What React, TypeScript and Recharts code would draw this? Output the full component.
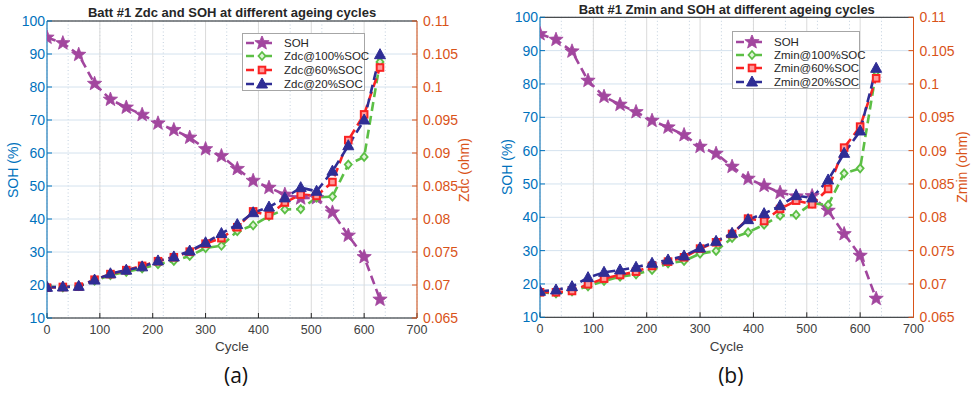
import React from 'react'
import { LineChart, Line, XAxis, YAxis, CartesianGrid, Legend, ReferenceLine } from 'recharts'

// ageing cycles (x) — same for both panels
const cycles = [0, 30, 60, 90, 120, 150, 180, 210, 240, 270, 300, 330, 360, 390, 420, 450, 480, 510, 540, 570, 600, 630]

// state of health (%)
const soh = [95, 93.3, 89.8, 81, 76.2, 73.8, 71.6, 69, 67, 64.7, 61.2, 59.1, 55.2, 51.6, 49.5, 47.4, 46.3, 46.4, 42, 35, 28.5, 15.6]

// panel (a): Zdc in ohm
const zdc100 = [0.06975, 0.06965, 0.06985, 0.07065, 0.0715, 0.072, 0.0725, 0.07315, 0.07365, 0.0744, 0.0756, 0.07595, 0.07815, 0.07905, 0.08045, 0.08145, 0.0815, 0.08325, 0.0834, 0.08825, 0.0894, 0.1038]
const zdc60 = [0.0696, 0.0697, 0.06975, 0.0708, 0.07165, 0.07225, 0.0729, 0.0736, 0.0742, 0.07505, 0.07625, 0.0771, 0.07875, 0.08115, 0.08055, 0.0825, 0.0837, 0.0835, 0.0856, 0.09195, 0.09585, 0.10295]
const zdc20 = [0.06965, 0.0697, 0.0698, 0.07075, 0.0717, 0.07225, 0.07275, 0.07365, 0.07425, 0.07515, 0.0764, 0.0778, 0.07915, 0.08095, 0.0818, 0.0832, 0.08475, 0.0842, 0.08725, 0.0911, 0.095, 0.1049]

// panel (b): Zmin in ohm
const zmin100 = [0.06875, 0.0686, 0.0689, 0.06965, 0.07045, 0.0711, 0.07145, 0.0721, 0.0731, 0.07345, 0.07455, 0.07495, 0.0769, 0.07775, 0.0789, 0.08025, 0.08035, 0.0821, 0.08185, 0.0866, 0.08735, 0.10185]
const zmin60 = [0.06875, 0.06875, 0.06895, 0.06995, 0.0708, 0.07135, 0.07185, 0.0727, 0.07335, 0.074, 0.0753, 0.07625, 0.0775, 0.0798, 0.07945, 0.08125, 0.0825, 0.08195, 0.08425, 0.09045, 0.0936, 0.10085]
const zmin20 = [0.0689, 0.0691, 0.0696, 0.07095, 0.07175, 0.0721, 0.0725, 0.0731, 0.0736, 0.0742, 0.0754, 0.0764, 0.0776, 0.07965, 0.08055, 0.08175, 0.08325, 0.0829, 0.0856, 0.0896, 0.09295, 0.10235]

const cycleTicks = [0, 100, 200, 300, 400, 500, 600, 700]
const sohTicks = [10, 20, 30, 40, 50, 60, 70, 80, 90, 100]
const zTicks = [0.065, 0.07, 0.075, 0.08, 0.085, 0.09, 0.095, 0.1, 0.105, 0.11]
const minorCycleTicks = Array.from({ length: 36 }, (_, i) => i * 20)
const minorSohTicks = Array.from({ length: 46 }, (_, i) => 10 + i * 2)

const FONT = '"Liberation Sans", Arial, Helvetica, sans-serif'
const BLUE_AX = '#0072BD'
const ORANGE_AX = '#D95319'
const DARK = '#262626'
const PURPLE = '#a2469e'
const GREEN = '#5cbf45'
const RED = '#fa2323'
const NAVY = '#2f2d95'
const DASH = '9 5'

function Star({ cx, cy }: { cx: number, cy: number }) {
  const pts: string[] = []
  for (let k = 0; k < 10; k++) {
    const r = k % 2 === 0 ? 7.5 : 3.2
    const a = -Math.PI / 2 + (k * Math.PI) / 5
    pts.push(`${cx + r * Math.cos(a)},${cy + r * Math.sin(a)}`)
  }
  return <polygon points={pts.join(' ')} fill={PURPLE} stroke={PURPLE} strokeWidth={0.8} />
}

function Diamond({ cx, cy }: { cx: number, cy: number }) {
  return <polygon points={`${cx},${cy - 4} ${cx + 3.5},${cy} ${cx},${cy + 4} ${cx - 3.5},${cy}`} fill="#dff3d6" stroke={GREEN} strokeWidth={1.8} />
}

function Square({ cx, cy }: { cx: number, cy: number }) {
  return <rect x={cx - 3.3} y={cy - 3.3} width={6.6} height={6.6} fill="#ff9c9c" stroke={RED} strokeWidth={2} />
}

function Triangle({ cx, cy }: { cx: number, cy: number }) {
  return <polygon points={`${cx},${cy - 6} ${cx + 5.5},${cy + 4} ${cx - 5.5},${cy + 4}`} fill={NAVY} stroke={NAVY} strokeWidth={1} />
}

const markers = [Star, Diamond, Square, Triangle]
const colors = [PURPLE, GREEN, RED, NAVY]

function dotOf(M: typeof Star, tag: string) {
  return (p: any) => <M key={`${tag}-${p.index}`} cx={p.cx} cy={p.cy} />
}

function Txt({ x, y, children, size = 13, color = DARK, rot = 0, weight = 400, family = FONT }: any) {
  return (
    <div style={{
      position: 'absolute', left: x, top: y, transform: `translate(-50%, -50%) rotate(${rot}deg)`,
      whiteSpace: 'nowrap', fontSize: size, color, fontWeight: weight, fontFamily: family, lineHeight: 1,
    }}>{children}</div>
  )
}

function LegendBox({ names, width, height, first, step }: { names: string[], width: number, height: number, first: number, step: number }) {
  return (
    <div style={{ position: 'relative', width, height, boxSizing: 'border-box', border: '1px solid #a6a6a6', background: '#fff' }}>
      {names.map((n, i) => {
        const M = markers[i]
        return (
          <div key={n} style={{ position: 'absolute', left: 0, top: first + i * step - 7, height: 14, display: 'flex', alignItems: 'center' }}>
            <svg width={36} height={14} style={{ display: 'block' }}>
              <line x1={3} y1={7} x2={31} y2={7} stroke={colors[i]} strokeWidth={2.5} strokeDasharray="8 10" />
              <M cx={19} cy={7} />
            </svg>
            <span style={{ marginLeft: 5, fontSize: 11.5, fontFamily: FONT, color: DARK }}>{n}</span>
          </div>
        )
      })}
    </div>
  )
}

interface PanelProps {
  x: number
  width: number
  top: number
  plotBottom: number
  leftW: number
  rightW: number
  title: string
  titleY: number
  zLabel: string
  names: string[]
  z100: number[]
  z60: number[]
  z20: number[]
  legendLeft: number
  legendTop: number
  legendW: number
  legendH: number
  legendFirst: number
  legendStep: number
  sohLabelX: number
  zLabelX: number
  tag: string
}

function Panel(p: PanelProps) {
  const rows = cycles.map((c, i) => ({ cycle: c, soh: soh[i], z100: p.z100[i], z60: p.z60[i], z20: p.z20[i] }))
  const plotL = p.leftW
  const plotR = p.width - p.rightW
  const cx = (plotL + plotR) / 2
  const cy = (p.top + p.plotBottom) / 2
  const xAxisH = 30
  return (
    <div style={{ position: 'absolute', left: p.x, top: 0, width: p.width, height: 394 }}>
      <LineChart
        width={p.width}
        height={394}
        data={rows}
        margin={{ top: p.top, right: 0, bottom: 394 - p.plotBottom - xAxisH, left: 0 }}
      >
        <XAxis xAxisId="minor" dataKey="cycle" type="number" domain={[0, 700]} ticks={minorCycleTicks} hide />
        <YAxis yAxisId="minor" type="number" domain={[10, 100]} ticks={minorSohTicks} hide />
        <CartesianGrid xAxisId="minor" yAxisId="minor" stroke="#b3c4d6" strokeDasharray="1 2.5" strokeWidth={0.8} />
        <XAxis
          dataKey="cycle"
          type="number"
          domain={[0, 700]}
          ticks={cycleTicks}
          height={xAxisH}
          stroke={DARK}
          tick={{ fontSize: 12.5, fill: '#404040', fontFamily: FONT }}
          tickSize={-5}
          tickMargin={12}
          allowDataOverflow
        />
        <YAxis
          yAxisId="left"
          type="number"
          domain={[10, 100]}
          ticks={sohTicks}
          width={p.leftW}
          stroke={BLUE_AX}
          tick={{ fontSize: 14, fill: BLUE_AX, fontFamily: FONT }}
          tickSize={-5}
          tickMargin={7}
        />
        <YAxis
          yAxisId="right"
          orientation="right"
          type="number"
          domain={[0.065, 0.11]}
          ticks={zTicks}
          width={p.rightW}
          stroke={ORANGE_AX}
          tick={{ fontSize: 14, fill: ORANGE_AX, fontFamily: FONT }}
          tickSize={-5}
          tickMargin={11}
          allowDataOverflow
        />
        <CartesianGrid yAxisId="left" vertical={false} stroke="#d4e2ee" strokeWidth={1} />
        <CartesianGrid yAxisId="left" horizontal={false} stroke="#dadada" strokeWidth={1} />
        <ReferenceLine yAxisId="left" y={100} stroke={DARK} strokeWidth={1} />
        <Line yAxisId="left" dataKey="soh" name={p.names[0]} stroke={PURPLE} strokeWidth={2.6} strokeDasharray={DASH}
          dot={dotOf(Star, 's')} activeDot={false} isAnimationActive={false} />
        <Line yAxisId="right" dataKey="z100" name={p.names[1]} stroke={GREEN} strokeWidth={2.6} strokeDasharray={DASH}
          dot={dotOf(Diamond, 'g')} activeDot={false} isAnimationActive={false} />
        <Line yAxisId="right" dataKey="z60" name={p.names[2]} stroke={RED} strokeWidth={2.6} strokeDasharray={DASH}
          dot={dotOf(Square, 'r')} activeDot={false} isAnimationActive={false} />
        <Line yAxisId="right" dataKey="z20" name={p.names[3]} stroke={NAVY} strokeWidth={2.6} strokeDasharray={DASH}
          dot={dotOf(Triangle, 'b')} activeDot={false} isAnimationActive={false} />
        <Legend
          layout="vertical"
          align="center"
          verticalAlign="middle"
          wrapperStyle={{ left: p.legendLeft, top: p.legendTop, width: p.legendW, height: p.legendH }}
          content={() => <LegendBox names={p.names} width={p.legendW} height={p.legendH} first={p.legendFirst} step={p.legendStep} />}
        />
      </LineChart>
      <Txt x={cx} y={p.titleY} weight={700} size={13}>{p.title}</Txt>
      <Txt x={cx} y={347} size={13.5} color="#404040">Cycle</Txt>
      <Txt x={cx + 4} y={375} size={21} color="#111" family='"Open Sans", "Noto Sans", sans-serif'>{p.tag}</Txt>
      <Txt x={p.sohLabelX} y={cy} rot={-90} size={14} color={BLUE_AX}>SOH (%)</Txt>
      <Txt x={p.zLabelX} y={cy} rot={-90} size={14} color={ORANGE_AX}>{p.zLabel}</Txt>
    </div>
  )
}

export default function App() {
  return (
    <div style={{ position: 'absolute', left: 0, top: 0, width: 974, height: 394, background: '#fff', overflow: 'hidden' }}>
      <Panel
        x={0} width={487} top={21} plotBottom={318} leftW={47} rightW={70}
        title="Batt #1 Zdc and SOH at different ageing cycles" titleY={12}
        zLabel="Zdc (ohm)"
        names={['SOH', 'Zdc@100%SOC', 'Zdc@60%SOC', 'Zdc@20%SOC']}
        z100={zdc100} z60={zdc60} z20={zdc20}
        legendLeft={242} legendTop={33} legendW={123} legendH={58} legendFirst={8.7} legendStep={13.6}
        sohLabelX={13} zLabelX={464} tag="(a)"
      />
      <Panel
        x={487} width={487} top={17.3} plotBottom={317.3} leftW={53} rightW={60.5}
        title="Batt #1 Zmin and SOH at different ageing cycles" titleY={8.5}
        zLabel="Zmin (ohm)"
        names={['SOH', 'Zmin@100%SOC', 'Zmin@60%SOC', 'Zmin@20%SOC']}
        z100={zmin100} z60={zmin60} z20={zmin20}
        legendLeft={245} legendTop={30.7} legendW={128} legendH={58.6} legendFirst={10} legendStep={13.4}
        sohLabelX={20} zLabelX={475} tag="(b)"
      />
    </div>
  )
}
